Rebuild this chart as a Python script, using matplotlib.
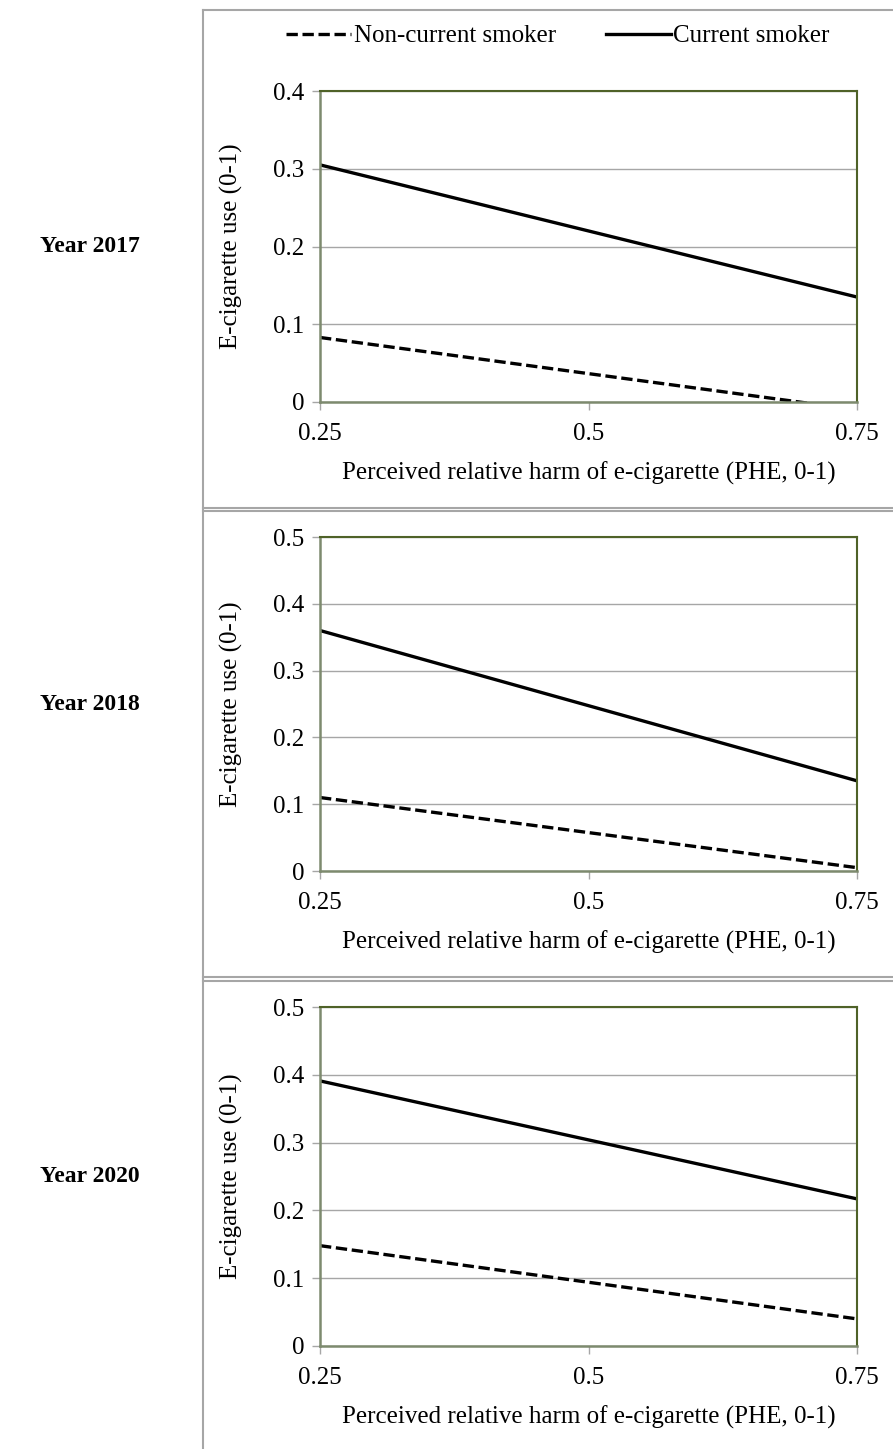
import matplotlib
matplotlib.use("Agg")
import matplotlib.pyplot as plt
from matplotlib.lines import Line2D

plt.rcParams["font.family"] = ["Liberation Serif", "DejaVu Serif"]

# data
years = ["Year 2017", "Year 2018", "Year 2020"]
phe = [0.25, 0.75]
current_smoker = [[0.305, 0.135], [0.360, 0.135], [0.391, 0.217]]
non_current_smoker = [[0.083, -0.010], [0.110, 0.005], [0.148, 0.040]]
y_max = [0.4, 0.5, 0.5]
x_ticks = [0.25, 0.5, 0.75]
x_tick_labels = ["0.25", "0.5", "0.75"]

W, H = 893, 1449
fig = plt.figure(figsize=(W / 100, H / 100), dpi=100)

# axes boxes in pixels: (top, bottom)
panels_px = [(91, 402), (537, 871), (1007, 1346)]
left_px, right_px = 320, 857

frame_dark = "#4F6228"
frame_light = "#7D8A6E"
grid_col = "#A6A6A6"
dash = (0, (3.4, 1.4))

for i, (top, bot) in enumerate(panels_px):
    ax = fig.add_axes([left_px / W, 1 - bot / H, (right_px - left_px) / W, (bot - top) / H])
    ax.plot(phe, non_current_smoker[i], color="black", lw=2.4, linestyle=dash)
    ax.plot(phe, current_smoker[i], color="black", lw=2.4)
    ax.set_xlim(0.25, 0.75)
    ax.set_ylim(0, y_max[i])
    yt = [round(v * 0.1, 1) for v in range(int(round(y_max[i] * 10)) + 1)]
    ax.set_yticks(yt)
    ax.set_yticklabels(["0" if v == 0 else f"{v:g}" for v in yt])
    ax.set_xticks(x_ticks)
    ax.set_xticklabels(x_tick_labels)
    ax.yaxis.grid(True, color=grid_col, lw=1)
    ax.set_axisbelow(True)
    ax.tick_params(direction="out", length=6, width=1, color=grid_col, labelsize=18)
    ax.tick_params(axis="x", pad=9)
    ax.tick_params(axis="y", pad=5)
    for s in ["top", "right"]:
        ax.spines[s].set_color(frame_dark)
        ax.spines[s].set_linewidth(1.5)
    for s in ["left", "bottom"]:
        ax.spines[s].set_color(frame_light)
        ax.spines[s].set_linewidth(1.8)
    ax.set_xlabel("Perceived relative harm of e-cigarette (PHE, 0-1)", fontsize=18, labelpad=12)
    ax.set_ylabel("E-cigarette use (0-1)", fontsize=18, labelpad=22)
    ymid = 1 - (top + bot) / 2 / H
    fig.text(40 / W, ymid, years[i], fontsize=17, fontweight="bold", va="center", ha="left")

# panel borders
border = dict(color="#A6A6A6", lw=1.5, transform=fig.transFigure)
fig.add_artist(Line2D([203 / W, 203 / W], [0, 1 - 10 / H], **border))
for yp in [10, 508, 511, 977, 981]:
    fig.add_artist(Line2D([203 / W, 1], [1 - yp / H, 1 - yp / H], **border))

handles = [Line2D([], [], color="black", lw=2.4, linestyle=dash),
           Line2D([], [], color="black", lw=2.4)]
fig.legend(handles, ["Non-current smoker", "Current smoker"], loc="center",
           bbox_to_anchor=(558 / W, 1 - 36 / H), ncol=2, frameon=False, fontsize=18,
           handlelength=2.6, handletextpad=0.1, columnspacing=2.0)

fig.savefig("out.png", dpi=100)
